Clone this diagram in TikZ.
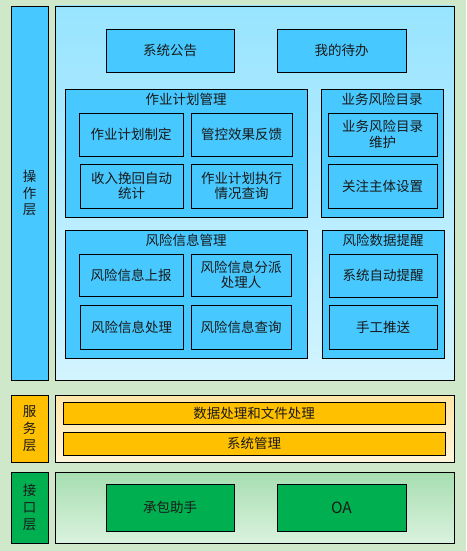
\documentclass[tikz,border=0pt]{standalone}
\usepackage{fontspec}
\setmainfont{Noto Sans CJK SC}
\usepackage{tikz}
\usetikzlibrary{positioning}

\definecolor{bgGreen}{HTML}{D0E8CA}
\definecolor{skyBox}{HTML}{47C8FF}
\definecolor{skyDark}{HTML}{98E4FF}
\definecolor{skyLight}{HTML}{D2F4FF}
\definecolor{goldBox}{HTML}{FFC000}
\definecolor{goldDark}{HTML}{FFE6A6}
\definecolor{goldLight}{HTML}{FFF5DA}
\definecolor{leafBox}{HTML}{00B050}
\definecolor{leafDark}{HTML}{A6DEB0}
\definecolor{leafLight}{HTML}{DAF2DE}

\begin{document}
\begin{tikzpicture}[x=1pt, y=-1pt,
    every node/.style={font=\fontsize{13.5}{15.5}\selectfont, text=black!90, align=center, inner sep=0pt},
    box/.style={draw=black, line width=0.8pt, minimum width=#1, minimum height=43pt},
    bluebox/.style={box=#1, fill=skyBox},
    layer/.style={draw=black, line width=0.8pt, minimum width=37pt, text width=14pt},
    panel/.style={draw=black, line width=0.8pt, minimum width=399pt, shading=axis, shading angle=45},
    group/.style={draw=black, line width=0.8pt, fill=skyBox, minimum width=#1, minimum height=128pt},
    grptitle/.style={anchor=center}
  ]
  % Background
  \fill[bgGreen] (0,0) rectangle (466,551);
  \useasboundingbox (0,0) rectangle (466,551);

  % Layer labels
  \node[layer, fill=skyBox, minimum height=374pt, font=\fontsize{13.5}{16.5}\selectfont] (oplayer) at (29.5,193) {操\\作\\层};
  \node[layer, fill=goldBox, minimum height=67pt, font=\fontsize{13.5}{17}\selectfont] (svlayer) at (29.5,428.5) {服\\务\\层};
  \node[layer, fill=leafBox, minimum height=71pt, font=\fontsize{13.5}{17}\selectfont] (iflayer) at (29.5,507.5) {接\\口\\层};

  % Panels
  \node[panel, top color=skyDark, bottom color=skyLight, minimum height=374pt] (oppanel) at (254.5,193) {};
  \node[panel, top color=goldDark, bottom color=goldLight, minimum height=67pt] (svpanel) at (254.5,428.5) {};
  \node[panel, top color=leafDark, bottom color=leafLight, minimum height=71pt] (ifpanel) at (254.5,507.5) {};

  % Operation layer
  \node[bluebox=128pt] (notice) at (170,50.5) {系统公告};
  \node[bluebox=129pt] (todo) at (341.5,50.5) {我的待办};

  \node[group=242pt] (plan) at (186,153) {};
  \node[grptitle] at ([yshift=-11pt]plan.north) {作业计划管理};
  \node[bluebox=104pt] (planMake) at (131,134.5) {作业计划制定};
  \node[bluebox=101pt] (planFeedback) at (241.5,134.5) {管控效果反馈};
  \node[bluebox=103pt, minimum height=44pt] (planIncome) at (131.5,186) {收入挽回自动\\统计};
  \node[bluebox=101pt, minimum height=44pt] (planQuery) at (241.5,186) {作业计划执行\\情况查询};

  \node[group=122pt] (catalog) at (382,153) {};
  \node[grptitle] at ([yshift=-11pt]catalog.north) {业务风险目录};
  \node[bluebox=109pt] (catKeep) at (382.5,134.5) {业务风险目录\\维护};
  \node[bluebox=109pt, minimum height=44pt] (catFocus) at (382.5,186) {关注主体设置};

  \node[group=242pt] (risk) at (186,294) {};
  \node[grptitle] at ([yshift=-11pt]risk.north) {风险信息管理};
  \node[bluebox=104pt, minimum height=42pt] (riskReport) at (131,275) {风险信息上报};
  \node[bluebox=100pt, minimum height=42pt] (riskAssign) at (241,275) {风险信息分派\\处理人};
  \node[bluebox=103pt, minimum height=44pt] (riskHandle) at (131.5,327) {风险信息处理};
  \node[bluebox=100pt, minimum height=44pt] (riskQuery) at (241,327) {风险信息查询};

  \node[group=122pt] (alert) at (383,294) {};
  \node[grptitle] at ([yshift=-11pt]alert.north) {风险数据提醒};
  \node[bluebox=108pt] (alertAuto) at (383,275.5) {系统自动提醒};
  \node[bluebox=108pt, minimum height=44pt] (alertPush) at (383,327) {手工推送};

  % Service layer
  \node[box=382pt, fill=goldBox, minimum height=22pt] (dataproc) at (254,413) {数据处理和文件处理};
  \node[box=382pt, fill=goldBox, minimum height=23pt] (sysmgr) at (254,443.5) {系统管理};

  % Interface layer
  \node[box=128pt, fill=leafBox, minimum height=47pt] (helper) at (170,507.5) {承包助手};
  \node[box=129pt, fill=leafBox, minimum height=47pt, font=\fontsize{15.5}{17}\selectfont] (oa) at (341.5,507.5) {OA};
\end{tikzpicture}
\end{document}
